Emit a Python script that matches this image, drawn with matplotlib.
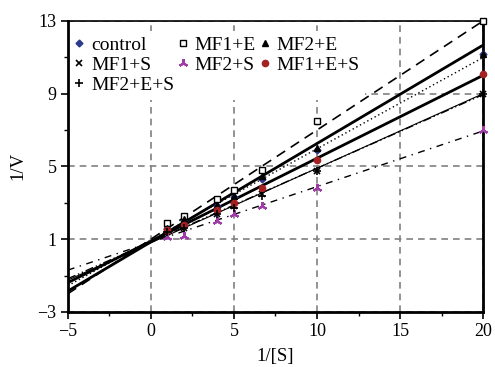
import matplotlib.pyplot as plt
import numpy as np

plt.rcParams['font.family'] = ['Liberation Serif', 'DejaVu Serif']

# substrate reciprocal, shared by every series
inv_s = [1, 2, 4, 5, 6.67, 10, 20]

# 1/V
control = [1.6, 2.0, 2.8, 3.3, 4.3, 5.9, 11.2]
mf1_e = [1.9, 2.3, 3.2, 3.7, 4.8, 7.5, 13.0]
mf2_e = [1.6, 2.1, 2.9, 3.4, 4.5, 6.0, 11.2]
mf1_s = [1.4, 1.6, 2.4, 2.8, 3.5, 4.75, 9.0]
mf2_s = [1.1, 1.2, 2.0, 2.4, 2.8, 3.8, 7.0]
mf1_e_s = [1.5, 1.8, 2.6, 3.0, 3.8, 5.35, 10.1]
mf2_e_s = [1.4, 1.6, 2.4, 2.7, 3.4, 4.75, 9.0]

# trendlines as drawn in the picture (slope, intercept)
fit_slope = {'control': 0.502, 'MF1+E': 0.60, 'MF2+E': 0.541, 'MF1+S': 0.41,
             'MF2+S': 0.306, 'MF1+E+S': 0.456, 'MF2+E+S': 0.405}
fit_icept = {'control': 0.95, 'MF1+E': 1.0, 'MF2+E': 0.85, 'MF1+S': 0.80,
             'MF2+S': 0.83, 'MF1+E+S': 0.89, 'MF2+E+S': 0.85}

series = [
    ('control', control, dict(marker='D', color='#2E3A8C', ms=3.5, mfc='#2E3A8C', mec='#2E3A8C'),
     dict(ls=(0, (1, 2)), lw=1.0)),
    ('MF1+E', mf1_e, dict(marker='s', color='black', ms=5, mfc='white', mec='black', mew=1),
     dict(ls=(0, (6, 4)), lw=1.2)),
    ('MF2+E', mf2_e, dict(marker='^', color='black', ms=5, mfc='black', mec='black'),
     dict(ls='-', lw=2.0)),
    ('MF1+S', mf1_s, dict(marker='x', color='black', ms=5, mew=1.2),
     dict(ls='-', lw=0.8)),
    ('MF2+S', mf2_s, dict(marker=(3, 2, 0), color='#A03CA8', ms=6.5, mew=1.6),
     dict(ls=(0, (5, 4, 1, 4)), lw=1.0)),
    ('MF1+E+S', mf1_e_s, dict(marker='o', color='#A52020', ms=4.5, mfc='#A52020', mec='#A52020'),
     dict(ls='-', lw=2.0)),
    ('MF2+E+S', mf2_e_s, dict(marker='+', color='black', ms=6, mew=1.2),
     dict(ls=(0, (6, 2, 1, 2, 1, 2)), lw=1.0)),
]

fig, ax = plt.subplots(figsize=(4.95, 3.67), dpi=100)
fig.subplots_adjust(left=0.137, right=0.976, top=0.943, bottom=0.150)

handles = {}
for name, vals, mk, ln in series:
    ax.axline((0, fit_icept[name]), slope=fit_slope[name], color='black', zorder=3, **ln)
    h, = ax.plot(inv_s, vals, ls='none', zorder=4, label=name, clip_on=False, **mk)
    handles[name] = h

ax.set_xlim(-5, 20)
ax.set_ylim(-3, 13)
ax.set_xticks(np.arange(-5, 21, 5))
ax.set_xticks(np.arange(-2.5, 20, 5), minor=True)
ax.set_yticks(np.arange(-3, 14, 4))
ax.set_yticks(np.arange(-1, 13, 4), minor=True)
ax.tick_params(which='major', direction='out', length=5, width=1.2, labelsize=13, pad=3)
ax.tick_params(which='minor', direction='out', length=3, width=1)
ax.grid(which='major', color='#808080', ls=(0, (4, 3)), lw=1.2, zorder=1)

for side in ['left', 'bottom', 'right']:
    ax.spines[side].set_linewidth(2)
ax.spines['top'].set_linewidth(1.2)

ax.set_xlabel('1/[S]', fontsize=13.5, labelpad=6)
ax.set_ylabel('1/V', fontsize=13.5, labelpad=8)

order = ['control', 'MF1+S', 'MF2+E+S', 'MF1+E', 'MF2+S', 'MF2+E', 'MF1+E+S']
leg = ax.legend([handles[k] for k in order], order, ncol=3, loc='upper left',
                bbox_to_anchor=(0.0, 0.967), borderaxespad=0, fontsize=14, frameon=True,
                fancybox=False, edgecolor='none', framealpha=1, handlelength=0.6,
                handletextpad=0.3, columnspacing=0.15, labelspacing=0.12, borderpad=0.3)
leg.set_zorder(2)

fig.savefig('out.png', dpi=100)
